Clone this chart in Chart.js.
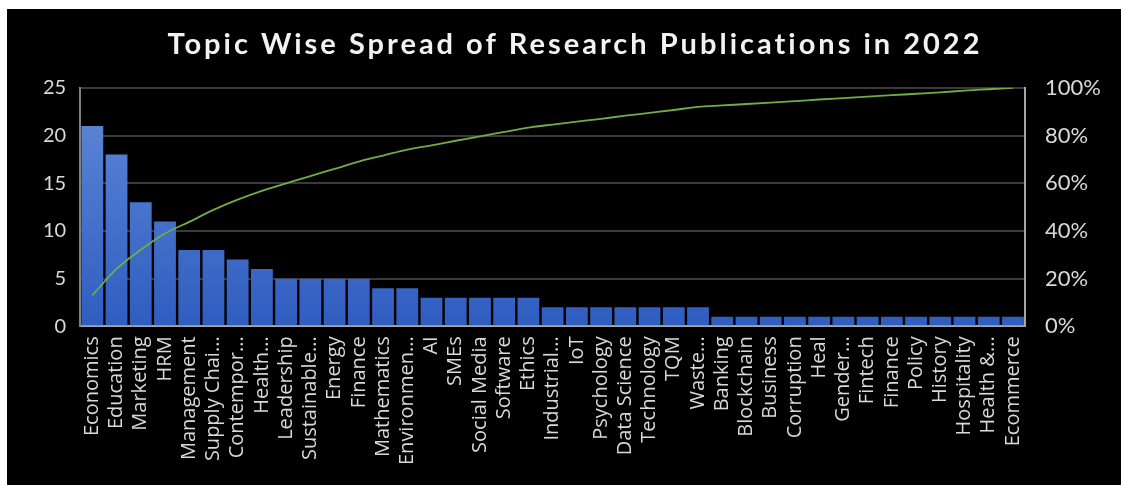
<!DOCTYPE html>
<html>
<head>
<meta charset="utf-8">
<script src="https://cdn.jsdelivr.net/npm/chart.js@4.4.0/dist/chart.umd.min.js"></script>
<style>
  html, body { margin: 0; padding: 0; background: #ffffff; }
  #wrap { position: absolute; left: 7px; top: 9px; width: 1114px; height: 476px; background: #000000; }
</style>
</head>
<body>
<div id="wrap"><canvas id="paretoChart"></canvas></div>
<script>
// topics and publication counts
const topics = [
  'Economics', 'Education', 'Marketing', 'HRM', 'Management', 'Supply Chai...',
  'Contempor...', 'Health...', 'Leadership', 'Sustainable...', 'Energy', 'Finance',
  'Mathematics', 'Environmen...', 'AI', 'SMEs', 'Social Media', 'Software', 'Ethics',
  'Industrial...', 'IoT', 'Psychology', 'Data Science', 'Technology', 'TQM', 'Waste...',
  'Banking', 'Blockchain', 'Business', 'Corruption', 'Heal', 'Gender...', 'Fintech',
  'Finance', 'Policy', 'History', 'Hospitality', 'Health &...', 'Ecommerce'
];
const counts = [
  21, 18, 13, 11, 8, 8, 7, 6, 5, 5, 5, 5, 4, 4, 3, 3, 3, 3, 3,
  2, 2, 2, 2, 2, 2, 2, 1, 1, 1, 1, 1, 1, 1, 1, 1, 1, 1, 1, 1
];
// cumulative share (%)
const cumulative = [
  13.0, 24.1, 32.1, 38.9, 43.8, 48.8, 53.1, 56.8, 59.9, 63.0, 66.0, 69.1, 71.6,
  74.1, 75.9, 77.8, 79.6, 81.5, 83.3, 84.6, 85.8, 87.0, 88.3, 89.5, 90.7, 92.0,
  92.6, 93.2, 93.8, 94.4, 95.1, 95.7, 96.3, 96.9, 97.5, 98.1, 98.8, 99.4, 100.0
];
const countTicks = [0, 5, 10, 15, 20, 25];
const pctTicks = [0, 20, 40, 60, 80, 100];

const labelColor = '#d9d9d9';
const gridColor = '#3a3a3a';

function barGradient(context) {
  const chart = context.chart;
  const area = chart.chartArea;
  if (!area) return '#4472c4';
  const g = chart.ctx.createLinearGradient(0, area.top, 0, area.bottom);
  g.addColorStop(0, '#6189d8');
  g.addColorStop(1, '#2f5dc0');
  return g;
}

const ctx = document.getElementById('paretoChart').getContext('2d');
const myChart = new Chart(ctx, {
  type: 'bar',
  data: {
    labels: topics,
    datasets: [
      {
        type: 'line',
        label: 'Cumulative %',
        data: cumulative,
        yAxisID: 'y2',
        borderColor: '#70ad47',
        borderWidth: 1.8,
        pointRadius: 0,
        cubicInterpolationMode: 'monotone',
        fill: false,
        order: 0
      },
      {
        type: 'bar',
        label: 'Publications',
        data: counts,
        yAxisID: 'y',
        backgroundColor: barGradient,
        borderWidth: 0,
        barPercentage: 0.9,
        categoryPercentage: 1.0,
        order: 1
      }
    ]
  },
  options: {
    responsive: true,
    maintainAspectRatio: false,
    animation: false,
    layout: { padding: { left: 22, right: 0, top: 6, bottom: 10 } },
    plugins: {
      legend: { display: false },
      tooltip: { enabled: false },
      title: {
        display: true,
        text: 'Topic Wise Spread of Research Publications in 2022',
        color: '#f2f2f2',
        font: { family: 'Lato', size: 29, weight: 'bold' },
        padding: { top: 12, bottom: 26 }
      }
    },
    scales: {
      x: {
        grid: { display: false, drawTicks: false },
        border: { display: true, color: '#a6a6a6', width: 2 },
        ticks: {
          color: labelColor,
          font: { family: 'Open Sans', size: 20 },
          autoSkip: false,
          maxRotation: 90,
          minRotation: 90,
          padding: 10
        }
      },
      y: {
        position: 'left',
        min: 0,
        max: 25,
        afterBuildTicks: axis => { axis.ticks = countTicks.map(v => ({ value: v })); },
        grid: { color: gridColor, lineWidth: 2, drawTicks: false },
        border: { display: true, color: '#7f7f7f', width: 2 },
        ticks: {
          color: labelColor,
          font: { family: 'Lato', size: 20 },
          padding: 14
        }
      },
      y2: {
        position: 'right',
        min: 0,
        max: 100,
        afterBuildTicks: axis => { axis.ticks = pctTicks.map(v => ({ value: v })); },
        grid: { display: false, drawTicks: false },
        border: { display: true, color: '#a6a6a6', width: 2 },
        ticks: {
          color: labelColor,
          font: { family: 'Lato', size: 22 },
          padding: 20,
          callback: v => v + '%'
        }
      }
    }
  }
});

// the title in the picture is letter-spaced: only the title block gets the spacing
const titleDraw = myChart.titleBlock.draw.bind(myChart.titleBlock);
myChart.titleBlock.draw = function () {
  ctx.save();
  ctx.letterSpacing = '3px';
  titleDraw();
  ctx.restore();
};
myChart.update();
</script>
</body>
</html>
